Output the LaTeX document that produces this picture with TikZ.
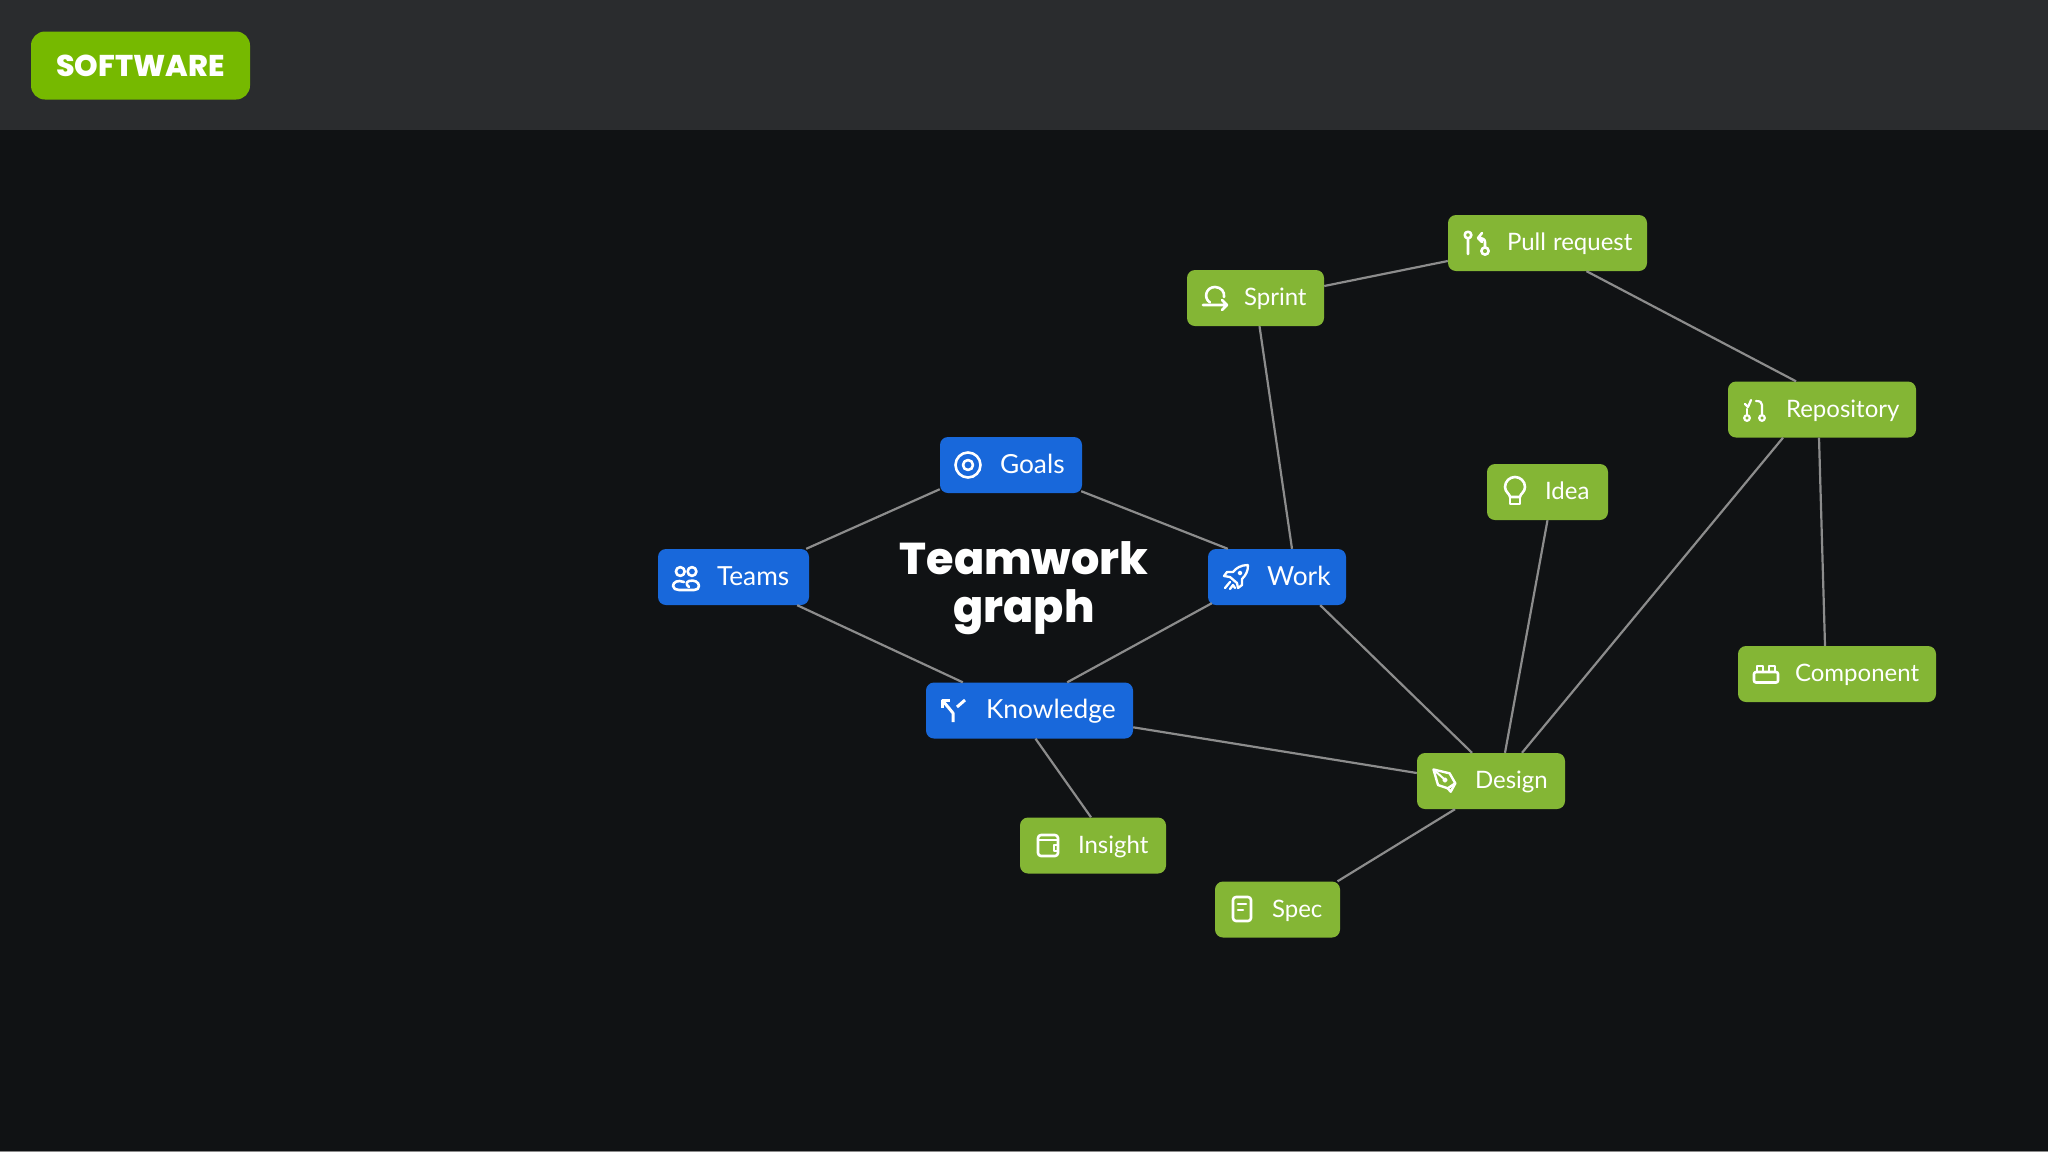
\documentclass[tikz,border=0pt]{standalone}
\usepackage{fontspec}
\usetikzlibrary{calc}
\setmainfont{Lato}
\newfontfamily\popx{Poppins ExtraBold}
\definecolor{bgdark}{HTML}{101214}
\definecolor{bghead}{HTML}{2A2C2E}
\definecolor{badge}{HTML}{76B900}
\definecolor{bluebox}{HTML}{1868DB}
\definecolor{greenbox}{HTML}{84B635}
\definecolor{edgegrey}{HTML}{8C8C8C}
\definecolor{edgestrip}{HTML}{8A8A8A}
\tikzset{
  basebox/.style={rectangle,rounded corners=8pt,draw=none,text=white,inner xsep=0pt,inner ysep=0pt,minimum height=56pt,align=left},
  bluenode/.style={basebox,fill=bluebox,font=\fontsize{26.3}{28}\selectfont,text height=19pt,text depth=3pt},
  greennode/.style={basebox,fill=greenbox,font=\fontsize{24}{26}\selectfont,text height=18.6pt,text depth=3.4pt},
  edge/.style={draw=edgegrey,line width=2.2pt},
  ic/.style={draw=white,line width=2.6pt,line cap=round,line join=round,fill=none},
  pics/goalsicon/.style={code={\draw[ic] (0,0) circle (12.5) (0,0) circle (5);}},
  pics/teamsicon/.style={code={\draw[ic] (-5.7,-6.5) circle (4.4) (6,-6.5) circle (4.4);
     \draw[ic] (-2,4) .. controls (-8,1.5) and (-13,4) .. (-13,8) .. controls (-13,10.5) and (-10,12) .. (-7,12) -- (8,12) .. controls (11,12) and (13,10.5) .. (13,8) .. controls (13,4) and (8,1.5) .. (3,3) .. controls (0,4) and (0,7) .. (3,9);}},
  pics/knowicon/.style={code={\draw[ic,line width=3pt,line cap=butt] (0,12) -- (0,3) -- (-10,-9);
     \draw[ic,line width=3pt,line cap=butt] (-11,-2) -- (-11,-10) -- (-3,-10);
     \draw[ic,line width=3pt,line cap=butt] (4,-3) -- (12,-10);}},
  pics/workicon/.style={code={\draw[ic,line width=2.3pt] (12,-12) .. controls (5,-12) and (0,-9) .. (-3,-5) -- (-9,-5) -- (-12,-1) -- (-6,0) -- (1,6) -- (2,11) -- (6,8) -- (6,2) .. controls (10,-2) and (12,-6) .. (12,-12);
     \draw[ic,line width=2.3pt] (-11,11) -- (-6,5) (-6,12) -- (-3,8) -- (-1,11);
     \draw[ic,line width=2pt] (4,-4) circle (1.5);}},
  pics/sprinticon/.style={code={\draw[ic] (-12,7) -- (12,7) (7,2) -- (12,7) -- (7,12);
     \draw[ic] (-5,4.5) .. controls (-12,0) and (-9,-11) .. (0,-11) .. controls (6,-11) and (10,-6) .. (9,-1);}},
  pics/pullicon/.style={code={\draw[ic] (-9,-8) circle (3.3) (-9,-4) -- (-9,11);
     \draw[ic] (8,8) circle (3.6) (8,4) -- (8,-1) .. controls (8,-4) and (5,-5) .. (1,-5) (5,-10) -- (1,-5) -- (5,-1);}},
  pics/repoicon/.style={code={\draw[ic,line width=2.2pt] (-8,8) circle (2.8) (7,8) circle (2.8);
     \draw[ic,line width=2.2pt] (7,5) -- (7,-5) .. controls (7,-8) and (5,-9) .. (1,-9);
     \draw[ic,line width=2.2pt] (-8,5) -- (-8,-1);
     \draw[ic,line width=2.2pt] (-10,-6) -- (-7,-3) -- (-4,-10);}},
  pics/ideaicon/.style={code={\draw[ic] (-5,6) .. controls (-5,3) and (-10,1) .. (-10,-4) .. controls (-10,-10) and (-5,-14) .. (0,-14) .. controls (5,-14) and (10,-10) .. (10,-4) .. controls (10,1) and (5,3) .. (5,6) -- cycle;
     \draw[ic] (-5,6) -- (-5,13) -- (5,13) -- (5,6);}},
  pics/compicon/.style={code={\draw[ic,rounded corners=2pt] (-12,-2) rectangle (12,8.5);
     \draw[ic] (-9,-2) -- (-9,-8) -- (-3,-8) -- (-3,-2) (3,-2) -- (3,-8) -- (9,-8) -- (9,-2);}},
  pics/designicon/.style={code={\draw[ic,line width=2.4pt] (-11.5,-10.5) -- (4.6,-6.7) -- (10.3,3.3) -- (2.7,8.3) -- (-7,5) -- cycle;
     \draw[ic,line width=2.4pt] (10.3,3.3) -- (5.7,11.7) -- (2.7,8.3);
     \draw[ic,line width=2pt] (-11.5,-10.5) -- (-1.5,-1.5);
     \draw[ic,line width=2pt] (0,0) circle (1.6);}},
  pics/insighticon/.style={code={\draw[ic,rounded corners=3pt] (-10,-10) rectangle (10,11);
     \draw[ic] (-10,-5) -- (10,-5);
     \draw[ic,line width=2pt] (10,0) -- (6,0) -- (6,6) -- (10,6);}},
  pics/specicon/.style={code={\draw[ic,rounded corners=3pt] (-9,-12) rectangle (9,12);
     \draw[ic] (-4,-5) -- (4,-5) (-4,1) -- (1,1);}}
}
\begin{document}
\begin{tikzpicture}[x=1pt,y=-1pt]
\useasboundingbox (0,0) rectangle (2048,1152);
\fill[bgdark] (0,0) rectangle (2048,1152);
\fill[bghead] (0,0) rectangle (2048,130);
\fill[edgestrip] (0,1150.5) rectangle (2048,1152);
% badge
\node[rectangle,rounded corners=14pt,fill=badge,text=white,minimum width=219pt,minimum height=68pt,inner sep=0pt,font=\popx\fontsize{30}{32}\selectfont] (badge) at (140.5,65.5) {SOFTWARE};
% title
\node[text=white,align=center,inner sep=0pt,font=\popx\fontsize{44.5}{48}\selectfont] (title) at (1024,588.5) {Teamwork\\graph};
% blue nodes
\node[bluenode,minimum width=142pt,text width=142pt] (goals) at (1011,465) {\hspace*{60pt}Goals};
\node[bluenode,minimum width=151pt,text width=151pt] (teams) at (733.5,577) {\hspace*{59pt}Teams};
\node[bluenode,minimum width=207pt,text width=207pt] (know) at (1029.5,710.5) {\hspace*{60pt}Knowledge};
\node[bluenode,minimum width=138pt,text width=138pt] (work) at (1277,577) {\hspace*{59pt}Work};
% green nodes
\node[greennode,minimum width=137pt,text width=137pt] (sprint) at (1255.5,298) {\hspace*{57pt}Sprint};
\node[greennode,minimum width=199pt,text width=199pt] (pull) at (1547.5,243) {\hspace*{59pt}Pull\hspace{-1pt} request};
\node[greennode,minimum width=188pt,text width=188pt] (repo) at (1822,409.5) {\hspace*{58pt}Repository};
\node[greennode,minimum width=121pt,text width=121pt] (idea) at (1547.5,492) {\hspace*{58pt}Idea};
\node[greennode,minimum width=198pt,text width=198pt] (comp) at (1837,674) {\hspace*{57pt}Component};
\node[greennode,minimum width=148pt,text width=148pt] (design) at (1491,781) {\hspace*{58pt}Design};
\node[greennode,minimum width=146pt,text width=146pt] (insight) at (1093,845.5) {\hspace*{58pt}Insight};
\node[greennode,minimum width=125pt,text width=125pt] (spec) at (1277.5,909.5) {\hspace*{57pt}Spec};
% connectors
\draw[edge] ([yshift=4pt]goals.south west) -- ([xshift=-3pt]teams.north east);
\draw[edge] ([xshift=-1pt,yshift=2pt]goals.south east) -- ([xshift=20pt]work.north west);
\draw[edge] ([xshift=-12pt]teams.south east) -- ([xshift=37pt]know.north west);
\draw[edge] ([xshift=-66pt]know.north east) -- ([xshift=4pt,yshift=2pt]work.south west);
\draw[edge] ([yshift=-45pt]know.north east) -- ([yshift=8pt]design.west);
\draw[edge] ([xshift=6pt]know.south) -- ([xshift=-2pt]insight.north);
\draw[edge] ([xshift=4pt]sprint.south) -- ([xshift=15pt]work.north);
\draw[edge] ([xshift=-26pt]work.south east) -- ([xshift=-19pt]design.north);
\draw[edge] ([yshift=12pt]sprint.east) -- ([yshift=-18pt]pull.west);
\draw[edge] ([xshift=39pt]pull.south) -- ([xshift=-26pt]repo.north);
\draw[edge] ([xshift=-39pt]repo.south) -- ([xshift=31pt]design.north);
\draw[edge] ([xshift=-3pt]repo.south) -- ([xshift=-12pt]comp.north);
\draw[edge] (idea.south) -- ([xshift=14pt]design.north);
\draw[edge] ([xshift=-36pt]design.south) -- ([xshift=60pt]spec.north);
% icons
\pic at (968,465) {goalsicon};
\pic at (686,578) {teamsicon};
\pic at (953,710) {knowicon};
\pic at (1236,577) {workicon};
\pic at (1215,298) {sprinticon};
\pic at (1477,243) {pullicon};
\pic at (1755,410) {repoicon};
\pic at (1515,491) {ideaicon};
\pic at (1766,674) {compicon};
\pic at (1445,780) {designicon};
\pic at (1048,845) {insighticon};
\pic at (1242,909) {specicon};
\end{tikzpicture}
\end{document}
